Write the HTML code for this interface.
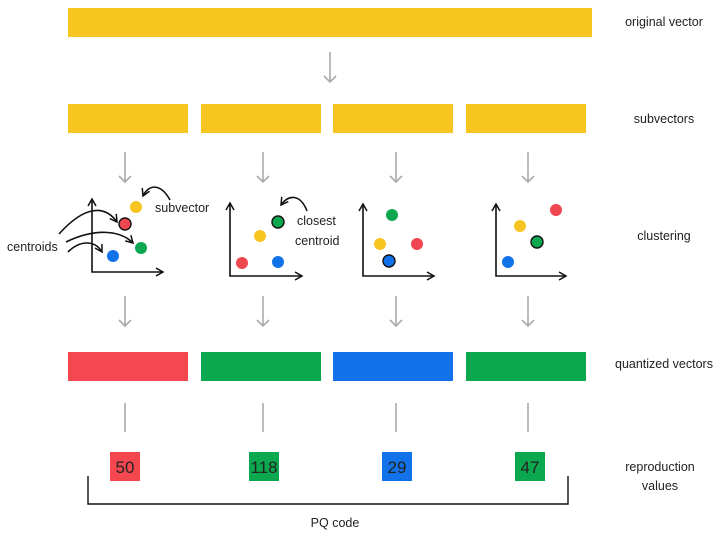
<!DOCTYPE html>
<html><head><meta charset="utf-8"><style>
html,body{margin:0;padding:0;background:#fff;}
svg{display:block;}
text{font-family:"Liberation Sans",sans-serif;fill:#222;font-size:12.5px;}
</style></head><body>
<svg width="720" height="533" viewBox="0 0 720 533" xmlns="http://www.w3.org/2000/svg">
<defs>
<marker id="ah" markerWidth="10" markerHeight="10" refX="8" refY="5" orient="auto" markerUnits="userSpaceOnUse"><path d="M1,1 L8,5 L1,9" fill="none" stroke="#111" stroke-width="1.5"/></marker>
<marker id="ag" markerWidth="14" markerHeight="14" refX="7" refY="12" orient="0" markerUnits="userSpaceOnUse"><path d="M1,6 L7,12 L13,6" fill="none" stroke="#aaa" stroke-width="1.6"/></marker>
</defs>
<rect x="68" y="8" width="524" height="29" fill="#F7C520"/>
<line x1="330" y1="52" x2="330" y2="82" stroke="#aaa" stroke-width="1.6" marker-end="url(#ag)"/>
<g fill="#F7C520">
<rect x="68" y="104" width="120" height="29"/><rect x="201" y="104" width="120" height="29"/>
<rect x="333" y="104" width="120" height="29"/><rect x="466" y="104" width="120" height="29"/></g>
<g stroke="#aaa" stroke-width="1.6">
<line x1="125" y1="152" x2="125" y2="182" marker-end="url(#ag)"/><line x1="263" y1="152" x2="263" y2="182" marker-end="url(#ag)"/>
<line x1="396" y1="152" x2="396" y2="182" marker-end="url(#ag)"/><line x1="528" y1="152" x2="528" y2="182" marker-end="url(#ag)"/>
<line x1="125" y1="296" x2="125" y2="326" marker-end="url(#ag)"/><line x1="263" y1="296" x2="263" y2="326" marker-end="url(#ag)"/>
<line x1="396" y1="296" x2="396" y2="326" marker-end="url(#ag)"/><line x1="528" y1="296" x2="528" y2="326" marker-end="url(#ag)"/>
<line x1="125" y1="403" x2="125" y2="432"/><line x1="263" y1="403" x2="263" y2="432"/>
<line x1="396" y1="403" x2="396" y2="432"/><line x1="528" y1="403" x2="528" y2="432"/>
</g>
<g stroke="#111" stroke-width="1.6" fill="none">
<path d="M92,200 V272 H163" marker-end="url(#ah)"/>
<path d="M230,205 V276 H302" marker-end="url(#ah)"/>
<path d="M363,205 V276 H434" marker-end="url(#ah)"/>
<path d="M496,205 V276 H566" marker-end="url(#ah)"/>
<line x1="92" y1="201" x2="92" y2="199" marker-end="url(#ah)"/>
<line x1="230" y1="205" x2="230" y2="203" marker-end="url(#ah)"/>
<line x1="363" y1="206" x2="363" y2="204" marker-end="url(#ah)"/>
<line x1="496" y1="206" x2="496" y2="204" marker-end="url(#ah)"/>
<path d="M170,200 C160,182 148,185 143,196" marker-end="url(#ah)"/>
<path d="M307,211 C300,193 288,195 281,205" marker-end="url(#ah)"/>
<path d="M59,234 C85,205 105,205 117,222" marker-end="url(#ah)"/>
<path d="M66,242 C95,228 120,230 133,243" marker-end="url(#ah)"/>
<path d="M68,252 C80,240 95,240 102,252" marker-end="url(#ah)"/>
</g>
<g>
<circle cx="136" cy="207" r="6" fill="#F7C520"/><circle cx="125" cy="224" r="6" fill="#EF4650" stroke="#111" stroke-width="1.4"/>
<circle cx="141" cy="248" r="6" fill="#0BA84F"/><circle cx="113" cy="256" r="6" fill="#1272EA"/>
<circle cx="260" cy="236" r="6" fill="#F7C520"/><circle cx="278" cy="222" r="6" fill="#0BA84F" stroke="#111" stroke-width="1.4"/>
<circle cx="242" cy="263" r="6" fill="#EF4650"/><circle cx="278" cy="262" r="6" fill="#1272EA"/>
<circle cx="392" cy="215" r="6" fill="#0BA84F"/><circle cx="380" cy="244" r="6" fill="#F7C520"/>
<circle cx="417" cy="244" r="6" fill="#EF4650"/><circle cx="389" cy="261" r="6" fill="#1272EA" stroke="#111" stroke-width="1.4"/>
<circle cx="556" cy="210" r="6" fill="#EF4650"/><circle cx="520" cy="226" r="6" fill="#F7C520"/>
<circle cx="537" cy="242" r="6" fill="#0BA84F" stroke="#111" stroke-width="1.4"/><circle cx="508" cy="262" r="6" fill="#1272EA"/>
</g>
<text x="155" y="212">subvector</text>
<text x="297" y="225">closest</text><text x="295" y="245">centroid</text>
<text x="7" y="251">centroids</text>
<rect x="68" y="352" width="120" height="29" fill="#F4474F"/>
<rect x="201" y="352" width="120" height="29" fill="#0BA84F"/>
<rect x="333" y="352" width="120" height="29" fill="#1272EA"/>
<rect x="466" y="352" width="120" height="29" fill="#0BA84F"/>
<rect x="110" y="452" width="30" height="29" fill="#F4474F"/>
<rect x="249" y="452" width="30" height="29" fill="#0BA84F"/>
<rect x="382" y="452" width="30" height="29" fill="#1272EA"/>
<rect x="515" y="452" width="30" height="29" fill="#0BA84F"/>
<g text-anchor="middle">
<text x="125" y="473" style="font-size:17px">50</text><text x="264" y="473" style="font-size:17px">118</text>
<text x="397" y="473" style="font-size:17px">29</text><text x="530" y="473" style="font-size:17px">47</text></g>
<path d="M88,476 V504 H568 V476" fill="none" stroke="#111" stroke-width="1.4"/>
<text x="335" y="527" text-anchor="middle">PQ code</text>
<g text-anchor="middle">
<text x="664" y="26">original vector</text>
<text x="664" y="123">subvectors</text>
<text x="664" y="240">clustering</text>
<text x="664" y="368">quantized vectors</text>
<text x="660" y="471">reproduction</text>
<text x="660" y="490">values</text>
</g>
</svg>
</body></html>
